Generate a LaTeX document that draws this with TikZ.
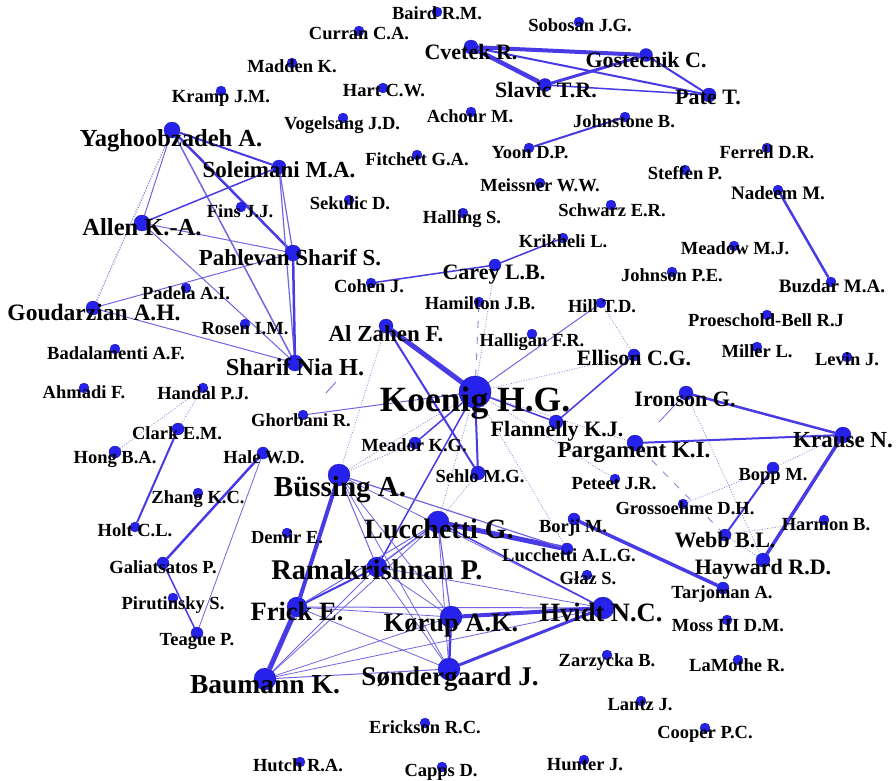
\documentclass[tikz,border=0pt]{standalone}
\usepackage{fontspec}
\setmainfont{Liberation Serif}
\definecolor{ec}{RGB}{72,58,228}
\definecolor{ecl}{RGB}{112,102,226}
\definecolor{ecd}{RGB}{140,130,215}
\definecolor{dotc}{RGB}{38,34,235}
\definecolor{dotd}{RGB}{25,22,160}
\pgfdeclarelayer{back}
\pgfdeclarelayer{bg}
\pgfdeclarelayer{fg}
\pgfsetlayers{back,bg,main,fg}
\tikzset{
  dot/.style={circle,fill=dotc,draw=dotd,line width=0.3pt,inner sep=0pt},
  lab/.style={inner sep=0pt,anchor=base,text=black},
  ew/.style={draw=ec,line width=#1},
  et/.style={draw=ecl,line width=#1},
  edot/.style={draw=ecd,line width=0.7pt,dash pattern=on 1pt off 1.6pt},
  edash/.style={draw=ecd,line width=0.9pt,dash pattern=on 7pt off 9pt},
}
\newcommand\au[8]{%
  \node[dot,minimum size=#4pt] (#1) at (#2,#3) {};
  \begin{pgfonlayer}{fg}\node[lab,font=\bfseries\fontsize{#7}{#7}\selectfont] (L#1) at ({#5},{#6+0.33*#7}) {#8};\end{pgfonlayer}}
\begin{document}
\begin{tikzpicture}[x=1pt,y=-1pt]
\begin{pgfonlayer}{back}
\fill[white] (0,0) rectangle (896,780);
\end{pgfonlayer}
\useasboundingbox (0,0) rectangle (896,780);
% nodes: name, dot x, dot y, diameter, label x, label y, font size, text
\au{baird}{437}{12}{10}{437}{13}{18.5}{Baird R.M.}
\au{curran}{359}{31}{10}{359}{33}{18.5}{Curran C.A.}
\au{sobosan}{579}{22}{10}{580}{25}{18.5}{Sobosan J.G.}
\au{madden}{292}{63}{10}{292}{66}{18.5}{Madden K.}
\au{cvetek}{471}{47}{14}{471}{52}{22}{Cvetek R.}
\au{gostecnik}{646}{55}{13}{646}{60}{22}{Gostecnik C.}
\au{kramp}{221}{91}{10}{221}{96}{18.5}{Kramp J.M.}
\au{hart}{383}{88}{10}{384}{90}{18.5}{Hart C.W.}
\au{slavic}{545}{85}{13}{546}{90}{22}{Slavic T.R.}
\au{pate}{709}{95}{14}{708}{97}{22}{Pate T.}
\au{vogelsang}{343}{118}{10}{342}{123}{18.5}{Vogelsang J.D.}
\au{achour}{471}{112}{10}{470}{116}{18.5}{Achour M.}
\au{johnstone}{625}{117}{10}{624}{121}{18.5}{Johnstone B.}
\au{yagh}{172}{130}{16}{171}{138}{24.5}{Yaghoobzadeh A.}
\au{soleimani}{279}{167}{14}{279}{170}{23}{Soleimani M.A.}
\au{fitchett}{417}{155}{10}{417}{159}{18.5}{Fitchett G.A.}
\au{yoon}{529}{148}{10}{530}{152}{18.5}{Yoon D.P.}
\au{ferrell}{767}{148}{10}{767}{152}{18.5}{Ferrell D.R.}
\au{steffen}{685}{170}{10}{685}{173}{18.5}{Steffen P.}
\au{nadeem}{778}{190}{10}{778}{193}{19}{Nadeem M.}
\au{meissner}{540}{183}{10}{540}{185}{18.5}{Meissner W.W.}
\au{fins}{241}{207}{10}{240}{211}{18.5}{Fins J.J.}
\au{sekulic}{349}{200}{10}{350}{203}{18.5}{Sekulic D.}
\au{schwarz}{611}{205}{10}{612}{210}{18.5}{Schwarz E.R.}
\au{allen}{142}{223}{16}{142}{227}{24.5}{Allen K.-A.}
\au{halling}{463}{213}{10}{462}{217}{18.5}{Halling S.}
\au{krikheli}{563}{238}{10}{563}{241}{18.5}{Krikheli L.}
\au{meadow}{734}{246}{10}{735}{248}{18.5}{Meadow M.J.}
\au{pahlevan}{293}{253}{16}{290}{258}{23}{Pahlevan Sharif S.}
\au{carey}{495}{265}{12}{494}{272}{22}{Carey L.B.}
\au{johnson}{672}{272}{10}{672}{275}{18.5}{Johnson P.E.}
\au{buzdar}{831}{282}{10}{832}{286}{19}{Buzdar M.A.}
\au{cohen}{371}{283}{10}{369}{286}{18.5}{Cohen J.}
\au{padela}{186}{288}{10}{186}{293}{18.5}{Padela A.I.}
\au{hamilton}{479}{302}{10}{480}{303}{18.5}{Hamilton J.B.}
\au{hill}{601}{303}{10}{602}{306}{18.5}{Hill T.D.}
\au{goudarzian}{93}{308}{14}{94}{313}{23.5}{Goudarzian A.H.}
\au{rosen}{245}{324}{10}{245}{328}{18.5}{Rosen I.M.}
\au{halligan}{532}{334}{10}{532}{340}{18.5}{Halligan F.R.}
\au{proeschold}{767}{315}{10}{766}{320}{18.5}{Proeschold-Bell R.J}
\au{alzahen}{386}{326}{14}{386}{334}{23}{Al Zahen F.}
\au{ellison}{634}{355}{12}{634}{358}{22}{Ellison C.G.}
\au{badalamenti}{115}{349}{10}{116}{353}{18.5}{Badalamenti A.F.}
\au{miller}{757}{347}{10}{757}{351}{18.5}{Miller L.}
\au{levin}{847}{357}{10}{847}{359}{18.5}{Levin J.}
\au{sharifnia}{295}{363}{16}{295}{367}{24.3}{Sharif Nia H.}
\au{koenig}{475}{392}{32}{475}{400}{35.5}{Koenig H.G.}
\au{ahmadi}{84}{388}{10}{84}{392}{18.5}{Ahmadi F.}
\au{handal}{203}{388}{10}{203}{393}{18.5}{Handal P.J.}
\au{ironson}{686}{393}{14}{685}{399}{22}{Ironson G.}
\au{ghorbani}{303}{415}{10}{301}{420}{18.5}{Ghorbani R.}
\au{flannelly}{556}{422}{14}{557}{429}{22}{Flannelly K.J.}
\au{clark}{178}{429}{12}{177}{433}{18.5}{Clark E.M.}
\au{meador}{415}{443}{12}{414}{445}{18.5}{Meador K.G.}
\au{krause}{843}{435}{16}{843}{440}{23}{Krause N.}
\au{pargament}{635}{443}{16}{634}{450}{23}{Pargament K.I.}
\au{hong}{115}{452}{12}{115}{457}{18.5}{Hong B.A.}
\au{hale}{263}{453}{12}{264}{457}{18.5}{Hale W.D.}
\au{sehlo}{478}{473}{14}{480}{476}{18.5}{Sehlo M.G.}
\au{bopp}{773}{468}{12}{773}{474}{18.5}{Bopp M.}
\au{bussing}{339}{475}{22}{340}{487}{29}{Büssing A.}
\au{peteet}{615}{479}{10}{614}{483}{18.5}{Peteet J.R.}
\au{zhang}{198}{493}{10}{198}{497}{18.5}{Zhang K.C.}
\au{grossoehme}{683}{504}{10}{685}{508}{18.5}{Grossoehme D.H.}
\au{holt}{135}{527}{10}{135}{530}{18.5}{Holt C.L.}
\au{demir}{287}{533}{10}{287}{537}{18.5}{Demir E.}
\au{borji}{574}{519}{12}{573}{526}{18.5}{Borji M.}
\au{harmon}{824}{520}{10}{826}{524}{18.5}{Harmon B.}
\au{lucchetti}{438}{522}{22}{439}{529}{28}{Lucchetti G.}
\au{webb}{725}{535}{12}{725}{540}{22}{Webb B.L.}
\au{galiatsatos}{163}{563}{12}{163}{567}{18.5}{Galiatsatos P.}
\au{lucchettialg}{567}{549}{12}{569}{555}{18.5}{Lucchetti A.L.G.}
\au{hayward}{763}{560}{14}{763}{567}{22}{Hayward R.D.}
\au{ramakrishnan}{377}{567}{20}{377}{570}{28.5}{Ramakrishnan P.}
\au{glaz}{587}{575}{10}{588}{578}{18.5}{Głaz S.}
\au{pirutinsky}{173}{598}{10}{173}{603}{18.5}{Pirutinsky S.}
\au{tarjoman}{723}{588}{12}{722}{592}{18.5}{Tarjoman A.}
\au{frick}{297}{607}{20}{297}{612}{26.5}{Frick E.}
\au{hvidt}{603}{608}{22}{601}{613}{26.5}{Hvidt N.C.}
\au{korup}{451}{617}{22}{451}{623}{26.5}{Kørup A.K.}
\au{moss}{727}{620}{10}{728}{625}{18.5}{Moss III D.M.}
\au{teague}{197}{633}{12}{197}{639}{18.5}{Teague P.}
\au{zarzycka}{607}{655}{10}{607}{660}{18.5}{Zarzycka B.}
\au{lamothe}{738}{660}{10}{737}{665}{18.5}{LaMothe R.}
\au{sondergaard}{449}{669}{22}{450}{677}{27}{Søndergaard J.}
\au{baumann}{265}{679}{22}{265}{684}{27.5}{Baumann K.}
\au{lantz}{641}{701}{10}{640}{704}{18.5}{Lantz J.}
\au{erickson}{425}{723}{10}{425}{727}{18.5}{Erickson R.C.}
\au{cooper}{705}{728}{10}{705}{732}{18.5}{Cooper P.C.}
\au{hutch}{300}{762}{10}{298}{765}{18.5}{Hutch R.A.}
\au{hunter}{584}{760}{10}{585}{764}{18.5}{Hunter J.}
\au{capps}{442}{767}{10}{441}{770}{18.5}{Capps D.}
\coordinate (ironstub) at (659,422);
\coordinate (stubA) at (326,393);
\coordinate (stubB) at (336,382);
\begin{pgfonlayer}{bg}
% top cluster
\draw[ew=4pt] (cvetek) -- (gostecnik);
\draw[ew=4.5pt] (cvetek) -- (slavic);
\draw[ew=2pt] (cvetek) -- (pate);
\draw[ew=3pt] (slavic) -- (gostecnik);
\draw[ew=1.5pt] (slavic) -- (pate);
\draw[ew=2pt] (gostecnik) -- (pate);
\draw[ew=2pt] (johnstone) -- (yoon);
\draw[ew=2.5pt] (nadeem) -- (buzdar);
% left cluster
\draw[ew=2pt] (yagh) -- (soleimani);
\draw[ew=2.5pt] (yagh) -- (pahlevan);
\draw[et=1.5pt] (yagh) -- (sharifnia);
\draw[et=1pt] (yagh) -- (allen);
\draw[edot] (yagh) -- (goudarzian);
\draw[edot] ([xshift=-3pt]yagh.south) -- ([xshift=4pt]goudarzian.north);
\draw[ew=1.5pt] (soleimani) -- (allen);
\draw[et=1.2pt] (soleimani) -- (pahlevan);
\draw[et=1.2pt] (soleimani) -- (sharifnia);
\draw[et=1pt] (allen) -- (pahlevan);
\draw[et=1pt] (allen) -- (sharifnia);
\draw[et=1pt] (goudarzian) -- (pahlevan);
\draw[et=1pt] (goudarzian) -- (sharifnia);
\draw[ew=2.5pt] (pahlevan) -- (sharifnia);
\draw[ew=1.5pt] (cohen) -- (carey);
\draw[ew=1.5pt] (carey) -- (krikheli);
% Koenig
\draw[ew=5pt] (alzahen) -- (koenig);
\draw[ew=2pt] (alzahen) -- (sehlo);
\draw[ew=2pt] (koenig) -- (sehlo);
\draw[ew=1.5pt] (koenig) -- (meador);
\draw[ew=1.5pt] (koenig) -- (ramakrishnan);
\draw[et=1pt] (koenig) -- (hill);
\draw[ew=1.5pt] (koenig) -- (flannelly);
\draw[ew=1.5pt] (flannelly) -- (ellison);
\draw[et=1pt] (ghorbani) -- (koenig);
\draw[edot] (koenig) -- (carey);
\draw[edash] (koenig) -- (hamilton);
\draw[edot] (koenig) -- (ellison);
\draw[edot] (koenig) -- (pargament);
\draw[edot] (koenig) -- (peteet);
\draw[edot] (koenig) -- (lucchetti);
\draw[edot] (koenig) -- (lucchettialg);
\draw[edot] (koenig) -- (bussing);
\draw[edot] (meador) -- (bussing);
\draw[edot] (alzahen) -- (bussing);
\draw[et=0.8pt] (stubA) -- (stubB);
\draw[edot] (sehlo) -- (lucchetti);
\draw[edot] (hill) -- (ellison);
% right cluster
\draw[ew=2.5pt] (ironson) -- (krause);
\draw[ew=2pt] (pargament) -- (krause);
\draw[ew=3.5pt] (krause) -- (hayward);
\draw[ew=2pt] (bopp) -- (webb);
\draw[et=0.8pt] (ironson) -- (ironstub);
\draw[edot] (krause) -- (bopp);
\draw[edot] (ironson) -- (hayward);
\draw[edash] (pargament) -- (webb);
\draw[edot] (grossoehme) -- (bopp);
\draw[edot] (webb) -- (harmon);
\draw[edot] (hayward) -- (webb);
\draw[ew=3.5pt] (borji) -- (tarjoman);
\draw[ew=5pt] (lucchetti) -- (lucchettialg);
% lower-left
\draw[ew=2pt] (clark) -- (holt);
\draw[edot] (clark) -- (handal);
\draw[edot] (hong) -- (handal);
\draw[ew=2.5pt] (hale) -- (galiatsatos);
\draw[et=0.8pt] (hale) -- (teague);
\draw[ew=1.5pt] (galiatsatos) -- (teague);
% Bussing cluster
\draw[ew=4pt] (bussing) -- (frick);
\draw[ew=5pt] (frick) -- (baumann);
\draw[et=1pt] (bussing) -- (ramakrishnan);
\draw[et=1.2pt] (bussing) -- (lucchettialg);
\draw[et=0.8pt] (bussing) -- (korup);
\draw[et=0.8pt] (bussing) -- (hvidt);
\draw[et=0.8pt] (bussing) -- (sondergaard);
\draw[et=1.5pt] (ramakrishnan) -- (lucchetti);
\draw[ew=2pt] (ramakrishnan) -- (frick);
\draw[et=0.8pt] (ramakrishnan) -- (korup);
\draw[et=0.8pt] (ramakrishnan) -- (sondergaard);
\draw[et=0.8pt] (ramakrishnan) -- (hvidt);
\draw[et=1pt] (ramakrishnan) -- (baumann);
\draw[et=0.8pt] (frick) -- (korup);
\draw[et=1pt] (frick) -- (hvidt);
\draw[et=0.8pt] (frick) -- (sondergaard);
\draw[et=1pt] (frick) -- (lucchetti);
\draw[ew=4pt] (korup) -- (hvidt);
\draw[ew=2.5pt] (korup) -- (sondergaard);
\draw[ew=3pt] (sondergaard) -- (hvidt);
\draw[et=1pt] (baumann) -- (sondergaard);
\draw[et=0.8pt] (baumann) -- (korup);
\draw[et=0.8pt] (baumann) -- (hvidt);
\draw[et=0.8pt] (baumann) -- (lucchetti);
\draw[et=1.2pt] (lucchetti) -- (korup);
\draw[et=0.8pt] (lucchetti) -- (sondergaard);
\draw[ew=1.5pt] (lucchetti) -- (hvidt);
\end{pgfonlayer}
\end{tikzpicture}
\end{document}
